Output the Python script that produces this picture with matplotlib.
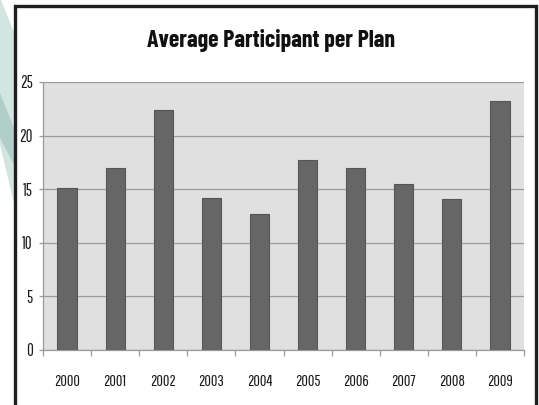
import matplotlib
matplotlib.use("Agg")
import matplotlib.pyplot as plt
from matplotlib.patches import Polygon, Rectangle
from matplotlib import font_manager

years = ["2000", "2001", "2002", "2003", "2004", "2005", "2006", "2007", "2008", "2009"]
avg_participants = [15.1, 17.0, 22.4, 14.2, 12.7, 17.7, 17.0, 15.5, 14.1, 23.2]
y_ticks = [0, 5, 10, 15, 20, 25]
title = "Average Participant per Plan"

installed = {f.name for f in font_manager.fontManager.ttflist}

def pick(*names):
    for n in names:
        if n in installed:
            return n
    return "DejaVu Sans"

tick_font = pick("Pathway Gothic One", "Barlow Condensed", "Carlito")
title_font = pick("Barlow Condensed", "Open Sans Condensed", "Carlito")
plt.rcParams["font.family"] = [tick_font, "DejaVu Sans"]

W, H = 539, 405
fig = plt.figure(figsize=(W / 100, H / 100), dpi=100)
fig.patch.set_facecolor("white")

def px(x, y):
    return (x / W, 1 - y / H)

# slide background chevrons on the left edge
light = Polygon([px(0, 0), px(1, 0), px(14, 32), px(14, 203), px(0, 145)],
                closed=True, transform=fig.transFigure, facecolor="#d3e5e1",
                edgecolor="none", zorder=0)
dark = Polygon([px(0, 93), px(14, 128), px(14, 165), px(0, 138)],
               closed=True, transform=fig.transFigure, facecolor="#b1cfc8",
               edgecolor="none", zorder=0)
fig.patches.extend([light, dark])

# chart frame
x0, y0 = px(15, 6)
x1, _ = px(535.5, 6)
_, ybot = px(0, 420)
frame = Rectangle((x0, ybot), x1 - x0, y0 - ybot, transform=fig.transFigure,
                  facecolor="white", edgecolor="#1e1e1e", linewidth=2.4, zorder=0.5)
fig.patches.append(frame)

ax = fig.add_axes([43 / W, (H - 350) / H, 481 / W, 268 / H])
ax.set_facecolor("#e0e0e0")
ax.set_zorder(2)

pos = list(range(len(years)))
ax.bar(pos, avg_participants, width=0.4, color="#666666", edgecolor="#555555",
       linewidth=0.8, zorder=3)

ax.set_xlim(-0.5, len(years) - 0.5)
ax.set_ylim(0, 25)
ax.set_yticks(y_ticks)
ax.set_yticklabels([str(t) for t in y_ticks])
ax.set_xticks(pos)
ax.set_xticklabels(years)
ax.set_xticks([p - 0.5 for p in range(len(years) + 1)], minor=True)

ax.yaxis.grid(True, color="#9a9a9a", linewidth=0.9, zorder=1)
ax.set_axisbelow(True)

for side in ["top", "right"]:
    ax.spines[side].set_visible(False)
for side in ["left", "bottom"]:
    ax.spines[side].set_color("#9a9a9a")
    ax.spines[side].set_linewidth(0.9)

ax.tick_params(axis="y", length=3, width=0.9, color="#9a9a9a", pad=4.5,
               labelsize=12, labelcolor="#1a1a1a")
ax.tick_params(axis="x", which="major", length=0, pad=17,
               labelsize=11.5, labelcolor="#1a1a1a")
ax.tick_params(axis="x", which="minor", length=4, width=0.9, color="#9a9a9a")

fig.text(271 / W, 1 - 41 / H, title, ha="center", va="center",
         fontsize=17.2, fontweight="bold", color="#111111",
         family=[title_font, "DejaVu Sans"])

fig.savefig("out.png", dpi=100, facecolor="white")
